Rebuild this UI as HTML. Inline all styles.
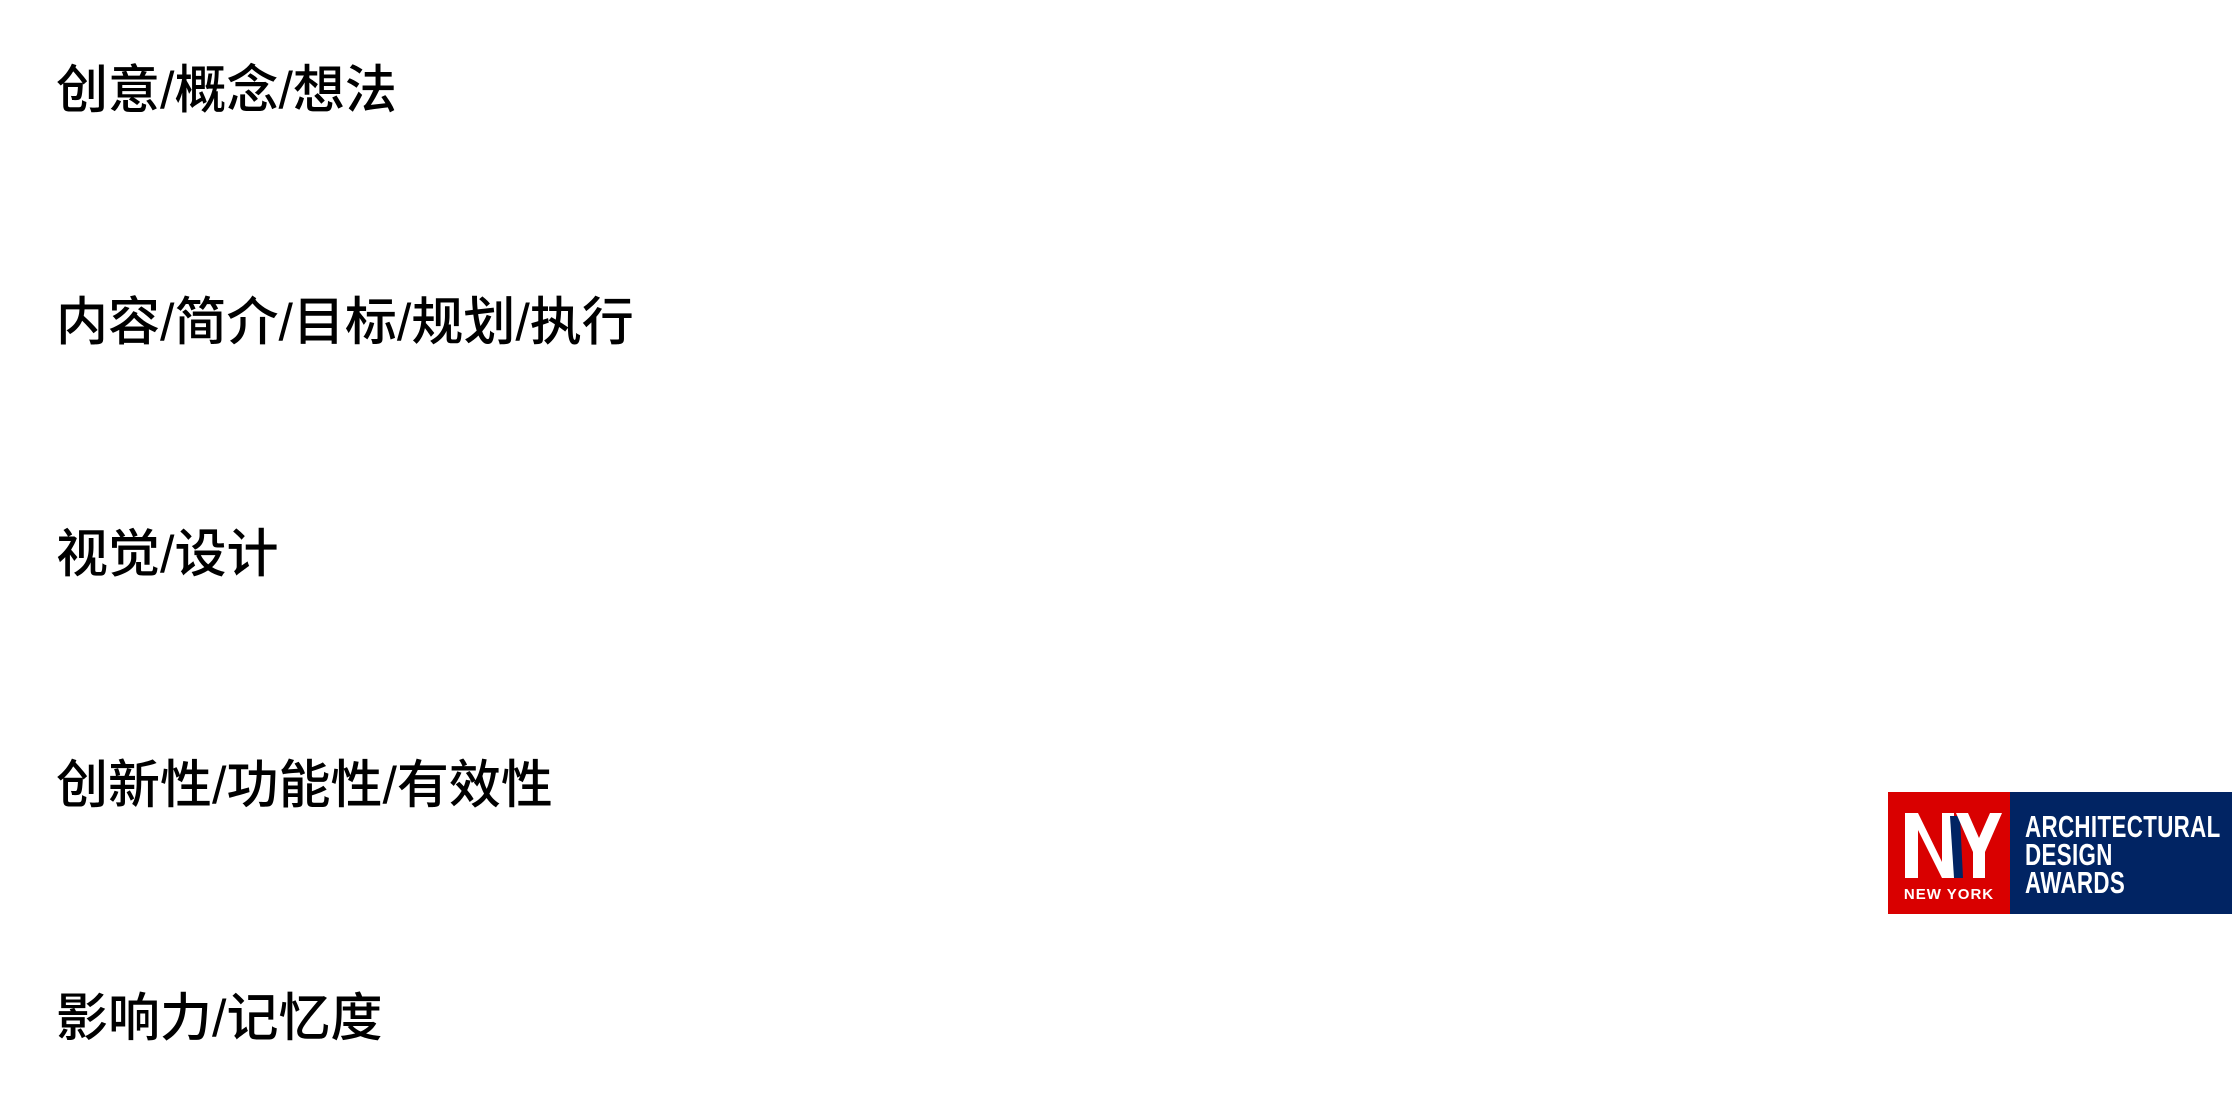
<!DOCTYPE html>
<html><head><meta charset="utf-8"><style>
html,body{margin:0;padding:0;background:#fff;}
body{width:2232px;height:1102px;position:relative;overflow:hidden;font-family:"Liberation Sans","Noto Sans CJK SC",sans-serif;}
.t{position:absolute;left:56px;font-size:52px;line-height:60px;color:#000;font-weight:500;font-family:"Liberation Sans","Noto Sans CJK SC",sans-serif;}
.logo{position:absolute;left:1888px;top:792px;width:344px;height:122px;}
.red{position:absolute;left:0;top:0;width:122px;height:122px;background:#d90000;}
.navy{position:absolute;left:122px;top:0;width:222px;height:122px;background:#012463;}
.lt{position:absolute;left:137px;color:#fff;font-weight:bold;font-size:31px;line-height:28px;transform:scaleX(0.72);transform-origin:left top;white-space:nowrap;letter-spacing:0.5px;}
</style></head><body>
<div class="t" style="top:61px">创意/概念/想法</div>
<div class="t" style="top:293px">内容/简介/目标/规划/执行</div>
<div class="t" style="top:525px">视觉/设计</div>
<div class="t" style="top:756px">创新性/功能性/有效性</div>
<div class="t" style="top:989px">影响力/记忆度</div>
<div class="logo">
<div class="red"></div>
<div class="navy"></div>
<svg style="position:absolute;left:0;top:0" width="122" height="122">
<polygon points="17,21 30,21 54,70 54,21 66,21 66,86 54,86 30,38 30,86 17,86" fill="#fff"/>
<polygon points="62,24 72,24 75,86 66,86" fill="#012463"/>
<polygon points="68,21 80,21 91,46 102,21 114,21 97,60 97,86 85,86 85,60" fill="#fff"/>
<text x="61" y="107" fill="#fff" font-family="Liberation Sans" font-weight="bold" font-size="15" text-anchor="middle" letter-spacing="1">NEW YORK</text>
</svg>
<div class="lt" style="top:21px">ARCHITECTURAL</div>
<div class="lt" style="top:49px">DESIGN</div>
<div class="lt" style="top:77px">AWARDS</div>
</div>
</body></html>
